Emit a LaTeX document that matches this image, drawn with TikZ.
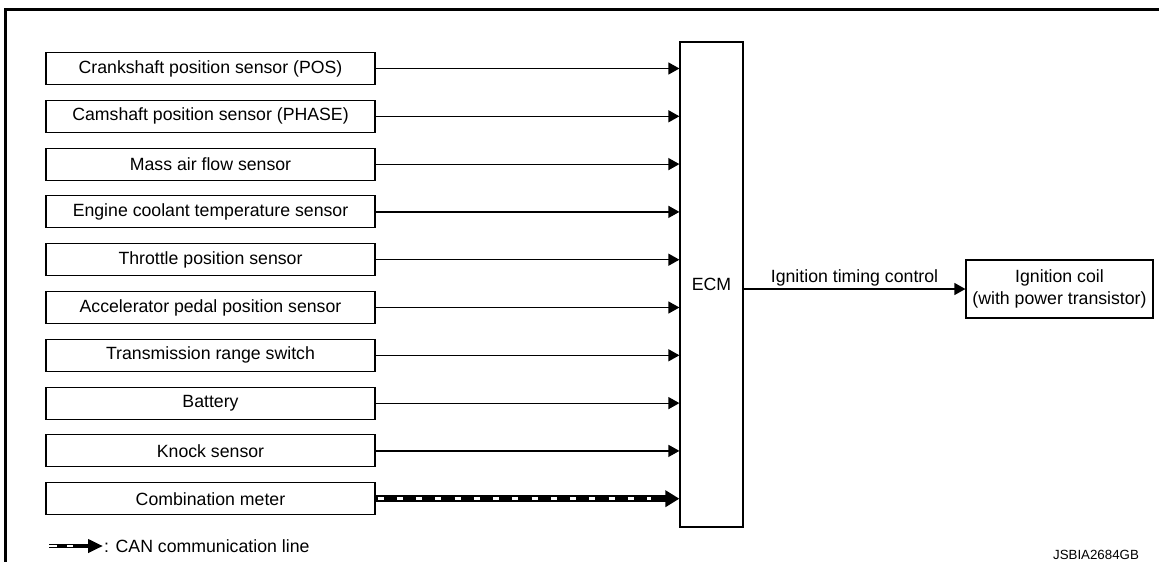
\documentclass[tikz,border=0pt]{standalone}
\usepackage{fontspec}
\setmainfont{Liberation Sans}
\usetikzlibrary{arrows.meta}
\tikzset{
  lbl/.style={font=\fontsize{17.7}{21.5}\selectfont},
  sensor/.style={draw, line width=1.1pt, minimum width=329pt, minimum height=32pt, inner sep=0pt, lbl},
  sig/.style={line width=1.2pt, -{Triangle[length=11pt,width=12pt]}},
  canblack/.style={line width=7pt, -{Triangle[length=14pt,width=16pt]}},
  canwhite/.style={white, line width=3pt, dash pattern=on 6pt off 13.25pt},
  frame/.style={line width=3pt}
}
\begin{document}
\begin{tikzpicture}[x=1pt,y=-1pt]
\useasboundingbox (0,0) rectangle (1159,562);
\draw[frame] (5.5,562) -- (5.5,9) -- (1159,9);

\node[sensor] (s1) at (210.5,68.5) {Crankshaft position sensor (POS)};
\node[sensor] (s2) at (210.5,116.3) {Camshaft position sensor (PHASE)};
\node[sensor] (s3) at (210.5,164.1) {Mass air flow sensor};
\node[sensor] (s4) at (210.5,211.9) {Engine coolant temperature sensor};
\node[sensor] (s5) at (210.5,259.7) {Throttle position sensor};
\node[sensor] (s6) at (210.5,307.5) {Accelerator pedal position sensor};
\node[sensor] (s7) at (210.5,355.3) {Transmission range switch};
\node[sensor] (s8) at (210.5,403.1) {Battery};
\node[sensor] (s9) at (210.5,450.9) {Knock sensor};
\node[sensor] (s10) at (210.5,498.7) {Combination meter};

\node[draw, line width=1.2pt, minimum width=63pt, minimum height=485pt, inner sep=0pt, lbl] (ecm) at (711.5,284.5) {ECM};

\node[draw, line width=1.2pt, minimum width=187pt, minimum height=58pt, inner sep=0pt, align=center, lbl] (coil) at (1059.5,289) {Ignition coil\\(with power transistor)};

\foreach \s in {s1,s2,s3,s4,s5,s6,s7,s8,s9}
  \draw[sig] (\s.east) -- (\s.east -| ecm.west);

\draw[canblack] (s10.east) -- (s10.east -| ecm.west);
\draw[canwhite] ([xshift=2pt]s10.east) -- ([xshift=-28pt]s10.east -| ecm.west);

\draw[sig] (ecm.east |- coil.west) -- node[above=2pt, inner sep=0pt, lbl] (itc) {Ignition timing control} (coil.west);

\coordinate (lg0) at (49,546);
\coordinate (lg1) at (103,546);
\draw[line width=4.5pt, -{Triangle[length=15pt,width=13pt]}] (lg0) -- (lg1);
\draw[white, line width=2pt] (lg0) -- ([xshift=8pt]lg0);
\draw[white, line width=2pt] ([xshift=18pt]lg0) -- ([xshift=24pt]lg0);
\node[anchor=west, inner sep=0pt, lbl] (lgt) at (104,546) {: CAN communication line};

\node[inner sep=0pt, font=\fontsize{13.3}{15}\selectfont] (code) at (1096,555) {JSBIA2684GB};
\end{tikzpicture}
\end{document}
